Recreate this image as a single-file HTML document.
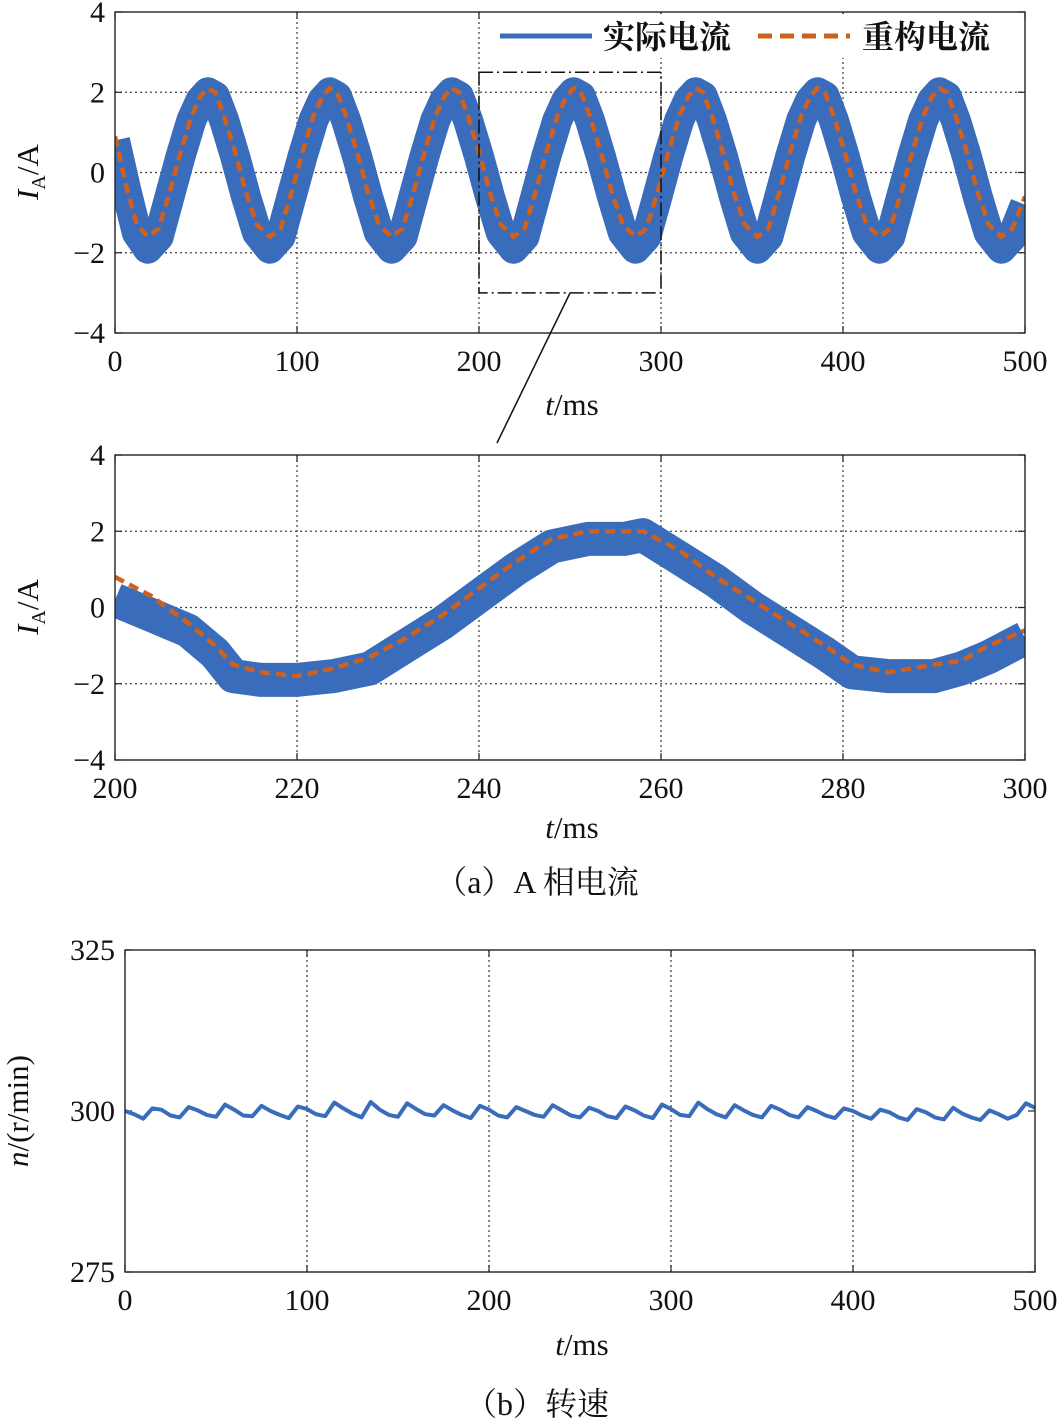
<!DOCTYPE html>
<html><head><meta charset="utf-8">
<style>
body{margin:0;background:#fff;}
svg{display:block;font-family:"Liberation Serif","Noto Serif CJK SC",serif;}
</style></head>
<body>
<svg id="fig" width="1060" height="1421" viewBox="0 0 1060 1421"></svg>
<script>
// ---- data ----
const topTime = [0,6,12,
18,24,30,36,42,47,51,55,60,66,72,78,
85,91,97,103,109,114,118,122,127,133,139,145,
152,158,164,170,176,181,185,189,194,200,206,212,
219,225,231,237,243,248,252,256,261,267,273,279,
286,292,298,304,310,315,319,323,328,334,340,346,
353,359,365,371,377,382,386,390,395,401,407,413,
420,426,432,438,444,449,453,457,462,468,474,480,
487,493,500];
const topActual = [0.8,-0.4,-1.5,
-1.9,-1.6,-0.6,0.4,1.3,1.8,2.0,1.9,1.3,0.4,-0.6,-1.5,
-1.9,-1.6,-0.6,0.4,1.3,1.8,2.0,1.9,1.3,0.4,-0.6,-1.5,
-1.9,-1.6,-0.6,0.4,1.3,1.8,2.0,1.9,1.3,0.4,-0.6,-1.5,
-1.9,-1.6,-0.6,0.4,1.3,1.8,2.0,1.9,1.3,0.4,-0.6,-1.5,
-1.9,-1.6,-0.6,0.4,1.3,1.8,2.0,1.9,1.3,0.4,-0.6,-1.5,
-1.9,-1.6,-0.6,0.4,1.3,1.8,2.0,1.9,1.3,0.4,-0.6,-1.5,
-1.9,-1.6,-0.6,0.4,1.3,1.8,2.0,1.9,1.3,0.4,-0.6,-1.5,
-1.9,-1.6,-0.8];
const topRecon = [0.9,-0.3,-1.3,
-1.6,-1.4,-0.5,0.5,1.4,1.9,2.1,2.0,1.4,0.5,-0.5,-1.3,
-1.6,-1.4,-0.5,0.5,1.4,1.9,2.1,2.0,1.4,0.5,-0.5,-1.3,
-1.6,-1.4,-0.5,0.5,1.4,1.9,2.1,2.0,1.4,0.5,-0.5,-1.3,
-1.6,-1.4,-0.5,0.5,1.4,1.9,2.1,2.0,1.4,0.5,-0.5,-1.3,
-1.6,-1.4,-0.5,0.5,1.4,1.9,2.1,2.0,1.4,0.5,-0.5,-1.3,
-1.6,-1.4,-0.5,0.5,1.4,1.9,2.1,2.0,1.4,0.5,-0.5,-1.3,
-1.6,-1.4,-0.5,0.5,1.4,1.9,2.1,2.0,1.4,0.5,-0.5,-1.3,
-1.6,-1.4,-0.6];
const zoomTime = [200,204,208,211,213,216,220,224,228,232,236,240,244,248,252,256,258,262,266,270,274,278,281,285,290,293,296,300];
const zoomActual = [0.2,-0.2,-0.6,-1.2,-1.8,-1.9,-1.9,-1.8,-1.6,-1.0,-0.4,0.3,1.0,1.6,1.8,1.8,1.9,1.3,0.7,0.0,-0.6,-1.2,-1.7,-1.8,-1.8,-1.6,-1.3,-0.8];
const zoomRecon = [0.8,0.3,-0.4,-1.0,-1.5,-1.7,-1.8,-1.6,-1.3,-0.8,-0.2,0.5,1.2,1.8,2.0,2.0,2.0,1.5,0.8,0.2,-0.4,-1.0,-1.5,-1.7,-1.5,-1.4,-1.0,-0.6];
const speedTime = [];
for (let i=0;i<=100;i++) speedTime.push(i*5);
const speedVals = [300,299.5,298.8,300.4,300.2,299.3,299.0,300.6,300.1,299.4,299.1,301.0,300.2,299.3,299.2,300.8,300.0,299.4,298.9,300.7,300.3,299.5,299.2,301.3,300.4,299.6,299.0,301.4,300.2,299.4,299.1,301.2,300.3,299.5,299.3,300.9,300.1,299.4,298.9,300.8,300.2,299.3,299.0,300.6,300.0,299.4,299.1,300.9,300.1,299.3,299.0,300.5,300.0,299.2,298.9,300.7,300.1,299.3,298.9,301.0,300.3,299.4,299.2,301.3,300.3,299.5,299.0,300.9,300.1,299.4,299.0,300.8,300.2,299.4,299.0,300.6,300.0,299.3,298.9,300.4,300.0,299.3,298.8,300.2,299.8,299.0,298.6,300.3,299.8,299.0,298.7,300.5,299.6,299.0,298.6,300.1,299.5,298.8,299.4,301.2,300.5];
const topXTicks = [0,100,200,300,400,500];
const topYTicks = [-4,-2,0,2,4];
const zoomXTicks = [200,220,240,260,280,300];
const speedYTicks = [275,300,325];

const NS="http://www.w3.org/2000/svg";
const svg=document.getElementById('fig');
const BLUE="#3a6cbc", ORANGE="#d0601e";
function mk(tag,attrs,parent){const e=document.createElementNS(NS,tag);for(const k in attrs)e.setAttribute(k,attrs[k]);(parent||svg).appendChild(e);return e;}
function txt(s,x,y,size,anchor,parent){const t=mk('text',{x:x,y:y,'font-size':size,'text-anchor':anchor||'middle',fill:'#111'},parent);t.textContent=s;return t;}

function axes(name,x0,x1,y0,y1,xd,yd,xticks,yticks,hgrid){
  const g=mk('g',{});
  
  
  const sx=v=>x0+(v-xd[0])/(xd[1]-xd[0])*(x1-x0);
  const sy=v=>y1-(v-yd[0])/(yd[1]-yd[0])*(y1-y0);
  xticks.forEach((v,i)=>{
    const x=sx(v);
    if(i>0&&i<xticks.length-1){const l=mk('line',{x1:x,x2:x,y1:y0,y2:y1,stroke:'#444','stroke-width':1.3,'stroke-dasharray':'2,3'},g);}
    mk('line',{x1:x,x2:x,y1:y1,y2:y1-7,stroke:'#222','stroke-width':1.2},g);
    mk('line',{x1:x,x2:x,y1:y0,y2:y0+7,stroke:'#222','stroke-width':1.2},g);
    const t=txt(String(v),x,y1+38,30,'middle',g);
    
  });
  yticks.forEach((v,i)=>{
    const y=sy(v);
    if(hgrid&&i>0&&i<yticks.length-1){const l=mk('line',{x1:x0,x2:x1,y1:y,y2:y,stroke:'#444','stroke-width':1.3,'stroke-dasharray':'2,3'},g);}
    mk('line',{x1:x0,x2:x0+7,y1:y,y2:y,stroke:'#222','stroke-width':1.2},g);
    mk('line',{x1:x1,x2:x1-7,y1:y,y2:y,stroke:'#222','stroke-width':1.2},g);
    const lab=v<0?'\u2212'+Math.abs(v):String(v);
    const t=txt(lab,x0-10,y+10,30,'end',g);
    
  });
  return {g,sx,sy,x0,x1,y0,y1};
}
function frame(a){const r=mk('rect',{x:a.x0,y:a.y0,width:a.x1-a.x0,height:a.y1-a.y0,fill:'none',stroke:'#222','stroke-width':1.4});}
function path(a,xs,ys){return xs.map((t,i)=>(i?'L':'M')+a.sx(t).toFixed(1)+','+a.sy(ys[i]).toFixed(1)).join('');}
function ylabel(x,y,main,sub,rest){
  const t=mk('text',{transform:`translate(${x},${y}) rotate(-90)`,'font-size':31,'text-anchor':'middle',fill:'#111'});
  
  const a=mk('tspan',{'font-style':'italic'},t);a.textContent=main;
  if(sub){const b=mk('tspan',{'font-size':20,dy:7},t);b.textContent=sub;}
  const c=mk('tspan',{dy:sub?-7:0},t);c.textContent=rest;
}
function xlabel(x,y){
  const t=mk('text',{x:x,y:y,'font-size':31,'text-anchor':'middle',fill:'#111'});
  
  const a=mk('tspan',{'font-style':'italic'},t);a.textContent='t';
  const b=mk('tspan',{},t);b.textContent='/ms';
}

// ---- top chart ----
const A=axes('top-chart',115,1025,12,333,[0,500],[-4,4],topXTicks,topYTicks,true);
const clipA=mk('clipPath',{id:'cA'});mk('rect',{x:115,y:12,width:910,height:321},clipA);
let p=mk('path',{d:path(A,topTime,topActual),fill:'none',stroke:BLUE,'stroke-width':30,'stroke-linejoin':'round','clip-path':'url(#cA)'});

p=mk('path',{d:path(A,topTime,topRecon),fill:'none',stroke:ORANGE,'stroke-width':4.5,'stroke-dasharray':'10,6','clip-path':'url(#cA)'});

frame(A);
// zoom box
const zb=mk('rect',{x:A.sx(200),y:A.sy(2.5),width:A.sx(300)-A.sx(200),height:A.sy(-3)-A.sy(2.5),fill:'none',stroke:'#111','stroke-width':1.5,'stroke-dasharray':'14,4,2,4'});

const zl=mk('line',{x1:570,y1:293,x2:497,y2:443,stroke:'#111','stroke-width':1.5});

// legend
const lg=mk('g',{});
mk('rect',{x:494,y:14,width:520,height:44,fill:'#fff'},lg);
let le=mk('line',{x1:500,x2:592,y1:36,y2:36,stroke:BLUE,'stroke-width':5},lg);
let lt=txt('实际电流',603,48,32,'start',lg);lt.setAttribute('font-weight','bold');
le=mk('line',{x1:758,x2:850,y1:36,y2:36,stroke:ORANGE,'stroke-width':5,'stroke-dasharray':'14,8'},lg);
lt=txt('重构电流',862,48,32,'start',lg);lt.setAttribute('font-weight','bold');
ylabel(38,172,'I','A','/A');
xlabel(572,415);

// ---- zoom chart ----
const B=axes('zoom-chart',115,1025,455,760,[200,300],[-4,4],zoomXTicks,topYTicks,true);
const clipB=mk('clipPath',{id:'cB'});mk('rect',{x:115,y:455,width:910,height:305},clipB);
p=mk('path',{d:path(B,zoomTime,zoomActual),fill:'none',stroke:BLUE,'stroke-width':34,'stroke-linejoin':'round','clip-path':'url(#cB)'});

p=mk('path',{d:path(B,zoomTime,zoomRecon),fill:'none',stroke:ORANGE,'stroke-width':4.5,'stroke-dasharray':'10,6','clip-path':'url(#cB)'});

frame(B);
ylabel(38,607,'I','A','/A');
xlabel(572,838);
let cap=txt('（a）A 相电流',537,893,32,'middle');

// ---- speed chart ----
const C=axes('speed-chart',125,1035,950,1272,[0,500],[275,325],topXTicks,speedYTicks,false);
p=mk('path',{d:path(C,speedTime,speedVals),fill:'none',stroke:BLUE,'stroke-width':4,'stroke-linejoin':'round'});

frame(C);
ylabel(28,1111,'n','','/(r/min)');
xlabel(582,1355);
cap=txt('（b）转速',537,1415,32,'middle');
</script>
</body></html>
